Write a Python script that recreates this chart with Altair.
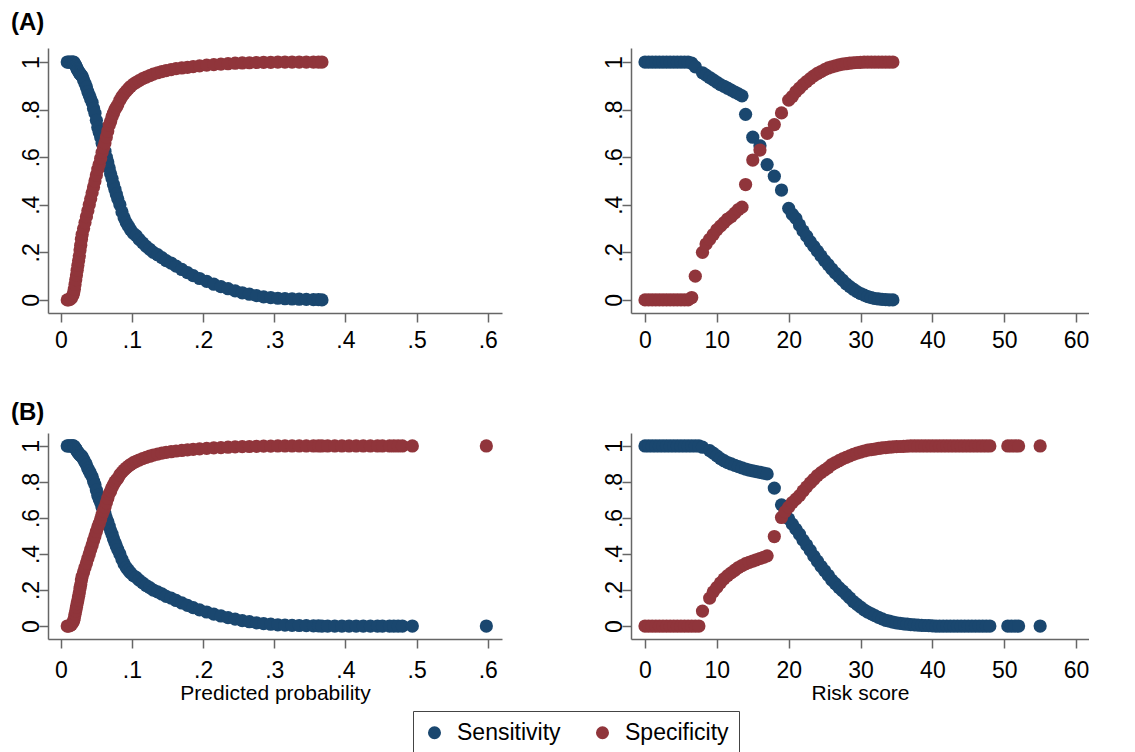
import altair as alt
import pandas as pd

BLUE = "#1a476f"
RED = "#90353b"
FONT = "Liberation Sans, Arial, sans-serif"
SERIES = ["Sensitivity", "Specificity"]

# ---------------- Panel A, predicted probability ----------------
PP_X_A = [0.009, 0.011, 0.013, 0.015, 0.017,
          0.018, 0.019, 0.020, 0.021, 0.022, 0.023, 0.024, 0.025, 0.026, 0.027, 0.028, 0.029, 0.030,
          0.032, 0.034, 0.036, 0.038, 0.040, 0.042, 0.044, 0.046, 0.048, 0.050, 0.052, 0.054, 0.056,
          0.058, 0.060, 0.062, 0.064, 0.066, 0.068, 0.070, 0.072, 0.074, 0.076, 0.078, 0.080,
          0.083, 0.086, 0.089, 0.092, 0.095, 0.098,
          0.102, 0.106, 0.110,
          0.115, 0.120, 0.125, 0.130,
          0.136, 0.142, 0.148,
          0.155, 0.162,
          0.170, 0.178, 0.186,
          0.195, 0.205, 0.215, 0.225, 0.235, 0.245, 0.255, 0.265, 0.275, 0.285, 0.295, 0.305,
          0.315, 0.325, 0.335, 0.345, 0.355,
          0.362, 0.367]
PP_SENS_A = [1, 1, 1, 1, 1,
             1, 0.995, 0.99, 0.985, 0.978, 0.97, 0.965, 0.96, 0.955, 0.95, 0.947, 0.944, 0.94,
             0.925, 0.91, 0.895, 0.875, 0.86, 0.845, 0.83, 0.805, 0.785, 0.755, 0.725, 0.705, 0.685,
             0.66, 0.645, 0.625, 0.60, 0.58, 0.555, 0.53, 0.51, 0.485, 0.465, 0.445, 0.425,
             0.40, 0.37, 0.345, 0.325, 0.31, 0.295,
             0.28, 0.27, 0.255,
             0.24, 0.225, 0.213, 0.20,
             0.19, 0.178, 0.165,
             0.155, 0.142,
             0.128, 0.115, 0.102,
             0.09, 0.078, 0.066, 0.056, 0.047, 0.038, 0.03, 0.024, 0.018, 0.013, 0.01, 0.007,
             0.005, 0.004, 0.003, 0.002, 0.001,
             0.001, 0]
PP_SPEC_A = [0, 0, 0.003, 0.008, 0.02,
             0.03, 0.045, 0.065, 0.085, 0.105, 0.125, 0.145, 0.165, 0.185, 0.21, 0.23, 0.255, 0.275,
             0.30, 0.325, 0.35, 0.375, 0.40, 0.425, 0.45, 0.475, 0.50, 0.525, 0.55, 0.57, 0.595,
             0.62, 0.64, 0.66, 0.685, 0.71, 0.735, 0.75, 0.77, 0.785, 0.80, 0.81, 0.82,
             0.84, 0.855, 0.867, 0.878, 0.888, 0.897,
             0.907, 0.915, 0.922,
             0.93, 0.937, 0.943, 0.949,
             0.955, 0.96, 0.964,
             0.968, 0.972,
             0.975, 0.978, 0.981,
             0.984, 0.987, 0.989, 0.991, 0.993, 0.995, 0.996, 0.997, 0.998, 0.999, 0.999, 1,
             1, 1, 1, 1, 1,
             1, 1]

# ---------------- Panel B, predicted probability ----------------
PP_X_B = PP_X_A + [0.375, 0.385, 0.395, 0.405, 0.415, 0.425, 0.435, 0.445, 0.452,
                   0.462, 0.468, 0.474, 0.480, 0.494, 0.598]
PP_SENS_B = PP_SENS_A + [0, 0, 0, 0, 0, 0, 0, 0, 0, 0, 0, 0, 0, 0, 0]
PP_SPEC_B = PP_SPEC_A + [1, 1, 1, 1, 1, 1, 1, 1, 1, 1, 1, 1, 1, 1, 1]

# ---------------- Panel A, risk score ----------------
RS_X_A = [0, 0.5, 1, 1.5, 2, 2.5, 3, 3.5, 4, 4.5, 5, 5.5, 6, 6.5, 7,
          8, 8.5, 9, 9.5, 10, 10.5, 11, 11.5, 12, 12.5, 13, 13.5,
          14, 15, 16, 17, 18, 19,
          20, 20.5, 21, 21.5, 22, 22.5, 23, 23.5, 24, 24.5, 25, 25.5, 26, 26.5, 27, 27.5,
          28, 28.5, 29, 29.5, 30, 30.5, 31, 31.5, 32, 32.5, 33, 33.5, 34, 34.5]
RS_SENS_A = [1, 1, 1, 1, 1, 1, 1, 1, 1, 1, 1, 1, 1, 0.995, 0.98,
             0.955, 0.945, 0.935, 0.925, 0.915, 0.905, 0.898, 0.89, 0.882, 0.874, 0.866, 0.858,
             0.78, 0.684, 0.648, 0.569, 0.52, 0.462,
             0.385, 0.36, 0.343, 0.315, 0.29, 0.268, 0.245, 0.225, 0.205, 0.185, 0.165, 0.148, 0.13, 0.113, 0.098, 0.083,
             0.068, 0.056, 0.045, 0.035, 0.027, 0.02, 0.014, 0.01, 0.006, 0.004, 0.002, 0.001, 0, 0]
RS_SPEC_A = [0, 0, 0, 0, 0, 0, 0, 0, 0, 0, 0, 0, 0, 0.01, 0.10,
             0.20, 0.235, 0.255, 0.275, 0.295, 0.31, 0.325, 0.34, 0.35, 0.365, 0.38, 0.39,
             0.485, 0.588, 0.63, 0.70, 0.737, 0.786,
             0.84, 0.855, 0.875, 0.89, 0.905, 0.918, 0.93, 0.942, 0.952, 0.96, 0.968, 0.975, 0.98, 0.984, 0.988, 0.991,
             0.993, 0.995, 0.997, 0.998, 0.999, 1, 1, 1, 1, 1, 1, 1, 1, 1]

# ---------------- Panel B, risk score ----------------
RS_X_B = [0, 0.5, 1, 1.5, 2, 2.5, 3, 3.5, 4, 4.5, 5, 5.5, 6, 6.5, 7, 7.5,
          8, 9,
          9.5, 10, 10.5, 11, 11.5, 12, 12.5, 13, 13.5, 14, 14.5, 15, 15.5, 16, 16.5, 17,
          18, 19,
          19.5, 20, 20.5, 21, 21.5, 22, 22.5, 23, 23.5, 24,
          24.5, 25, 25.5, 26, 26.5, 27, 27.5, 28, 28.5, 29,
          29.5, 30, 30.5, 31, 31.5, 32, 32.5, 33, 33.5, 34,
          34.5, 35, 35.5, 36, 36.5, 37, 37.5, 38, 38.5, 39,
          39.5, 40,
          40.5, 41, 41.5, 42, 42.5, 43, 43.5, 44, 44.5, 45, 45.5, 46, 46.5, 47, 47.5, 48,
          50.5, 51, 51.5, 52, 55]
RS_SENS_B = [1, 1, 1, 1, 1, 1, 1, 1, 1, 1, 1, 1, 1, 1, 1, 1,
             0.993, 0.974,
             0.96, 0.945, 0.93, 0.918, 0.908, 0.9, 0.892, 0.885, 0.878, 0.872, 0.866, 0.862, 0.858, 0.853, 0.849, 0.845,
             0.766, 0.673,
             0.625, 0.595, 0.566, 0.538, 0.51, 0.477, 0.45, 0.42, 0.388, 0.36,
             0.332, 0.307, 0.282, 0.255, 0.235, 0.213, 0.195, 0.176, 0.156, 0.136,
             0.12, 0.105, 0.09, 0.078, 0.068, 0.058, 0.048, 0.04, 0.032, 0.027,
             0.022, 0.018, 0.015, 0.012, 0.01, 0.008, 0.007, 0.005, 0.004, 0.003,
             0.002, 0.001,
             0, 0, 0, 0, 0, 0, 0, 0, 0, 0, 0, 0, 0, 0, 0, 0,
             0, 0, 0, 0, 0]
RS_SPEC_B = [0, 0, 0, 0, 0, 0, 0, 0, 0, 0, 0, 0, 0, 0, 0, 0,
             0.083, 0.155,
             0.19, 0.215, 0.24, 0.262, 0.28, 0.295, 0.31, 0.325, 0.336, 0.346, 0.354, 0.361, 0.368, 0.375, 0.382, 0.39,
             0.497, 0.603,
             0.635, 0.66, 0.686, 0.705, 0.724, 0.75, 0.773, 0.795, 0.815, 0.836,
             0.852, 0.866, 0.88, 0.897, 0.908, 0.918, 0.928, 0.937, 0.945, 0.953,
             0.96, 0.966, 0.972, 0.977, 0.98, 0.983, 0.986, 0.989, 0.991, 0.993,
             0.995, 0.996, 0.997, 0.998, 0.999, 1, 1, 1, 1, 1,
             1, 1,
             1, 1, 1, 1, 1, 1, 1, 1, 1, 1, 1, 1, 1, 1, 1, 1,
             1, 1, 1, 1, 1]

PP_TICKS = [0, 0.1, 0.2, 0.3, 0.4, 0.5, 0.6]
RS_TICKS = [0, 10, 20, 30, 40, 50, 60]
Y_TICKS = [0, 0.2, 0.4, 0.6, 0.8, 1]

LEGEND = alt.Legend(
    orient="none", legendX=365, legendY=663, direction="horizontal", title=None,
    symbolType="circle", symbolSize=170, symbolStrokeWidth=0, symbolOpacity=1,
    labelFont=FONT, labelFontSize=23, labelColor="black", labelOffset=11,
    columnPadding=30, padding=10, strokeColor="#444", fillColor="white",
)


def panel(xs, sens, spec, xdom, xticks, xfmt, ydom, w, h, ttl, ttl_off, xtitle, xlabpad):
    n = len(xs)
    df = pd.DataFrame({
        "x": list(xs) + list(xs),
        "v": list(sens) + list(spec),
        "series": [SERIES[0]] * n + [SERIES[1]] * n,
    })
    xaxis_kw = dict(values=xticks, format=xfmt, labelExpr="replace(datum.label, '0.', '.')",
                    labelPadding=xlabpad, titlePadding=0)
    xaxis_kw["title"] = xtitle if xtitle else None
    return alt.Chart(df).mark_circle(size=175, opacity=1).encode(
        x=alt.X("x:Q", scale=alt.Scale(domain=xdom, nice=False, zero=False), axis=alt.Axis(**xaxis_kw)),
        y=alt.Y("v:Q", scale=alt.Scale(domain=ydom, nice=False, zero=False),
                axis=alt.Axis(values=Y_TICKS, format=".1~f", labelExpr="replace(datum.label, '0.', '.')",
                              labelAngle=270, labelAlign="center", labelBaseline="alphabetic",
                              labelPadding=1, title=None)),
        color=alt.Color("series:N", scale=alt.Scale(domain=SERIES, range=[BLUE, RED]), legend=LEGEND),
    ).properties(
        width=w, height=h,
        title=alt.TitleParams(text=ttl, anchor="start", frame="group", dx=-37, offset=ttl_off,
                              fontSize=24, font=FONT, fontWeight="bold", color="black"),
    )


TOP_Y = [-0.055, 1.059]
BOT_Y = [-0.072, 1.072]
PP_DOM = [-0.018, 0.62]
RS_DOM = [-1.95, 61.8]

a1 = panel(PP_X_A, PP_SENS_A, PP_SPEC_A, PP_DOM, PP_TICKS, ".1~f", TOP_Y, 454, 265, "(A)", 13, None, 7)
a2 = panel(RS_X_A, RS_SENS_A, RS_SPEC_A, RS_DOM, RS_TICKS, "d", TOP_Y, 458, 265, " ", 13, None, 7)
b1 = panel(PP_X_B, PP_SENS_B, PP_SPEC_B, PP_DOM, PP_TICKS, ".1~f", BOT_Y, 454, 206, "(B)", 8,
           "Predicted probability", 11)
b2 = panel(RS_X_B, RS_SENS_B, RS_SPEC_B, RS_DOM, RS_TICKS, "d", BOT_Y, 458, 206, " ", 8, "Risk score", 11)

chart = alt.vconcat(
    alt.hconcat(a1, a2, spacing=92),
    alt.hconcat(b1, b2, spacing=92),
    spacing=49,
).properties(
    padding={"left": 3, "top": 3, "right": 0, "bottom": 0},
    background="white",
).configure_view(
    stroke=None
).configure_axis(
    grid=False, domainColor="#666666", tickColor="#666666", domainWidth=1.5, tickWidth=1.5,
    tickSize=9, labelFont=FONT, labelFontSize=23, labelColor="black",
    titleFont=FONT, titleFontSize=21, titleFontWeight="normal", titleColor="black",
)

chart.save("out.html", embed_options={"renderer": "svg", "actions": False})
